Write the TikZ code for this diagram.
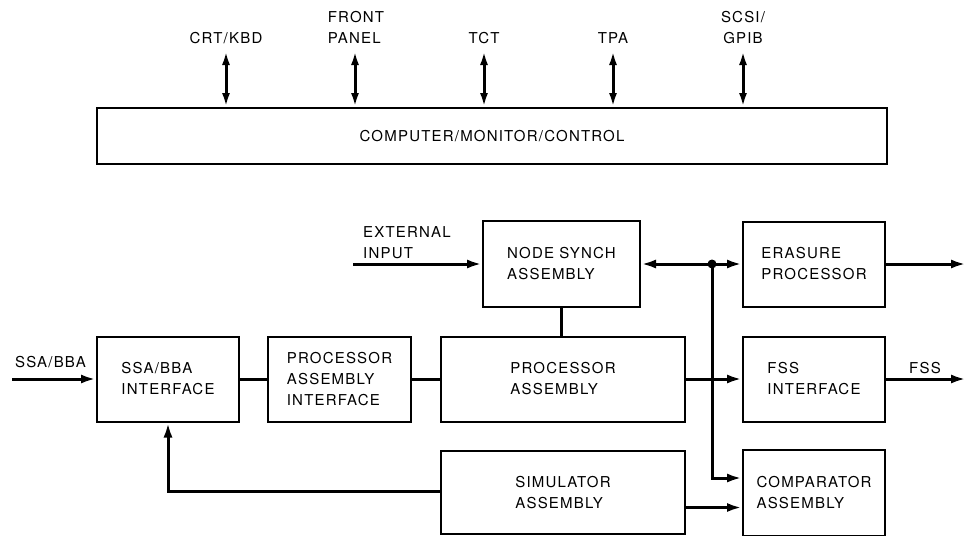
\documentclass[tikz,border=0pt]{standalone}
\usepackage{fontspec}
\setmainfont{TeX Gyre Heros}[LetterSpace=8]
\usetikzlibrary{arrows.meta}
\begin{document}
\begin{tikzpicture}[x=1pt,y=-1pt,
  txt/.style={font=\fontsize{15}{21}\selectfont},
  box/.style={draw, line width=2pt, align=left, inner sep=0pt, txt},
  lbl/.style={align=left, inner sep=0pt, txt},
  conn/.style={line width=3pt},
  arr/.style={conn, -{Latex[length=15pt,width=9pt]}},
  rarr/.style={conn, {Latex[length=15pt,width=9pt]}-},
  barr/.style={conn, {Latex[length=14pt,width=8pt]}-{Latex[length=14pt,width=8pt]}},
]
\useasboundingbox (0,0) rectangle (968,535);
\clip (0,0) rectangle (968,535);

% top block
\node[box, minimum width=790pt, minimum height=56pt] (cmc) at (492,136) {COMPUTER/MONITOR/CONTROL};
\node[lbl] (l1) at (226,38) {CRT/KBD};
\node[lbl] (l2) at (356,27.5) {FRONT\\PANEL};
\node[lbl] (l3) at (484,38) {TCT};
\node[lbl] (l4) at (613,38) {TPA};
\node[lbl, align=center] (l5) at (743,27.5) {SCSI/\\GPIB};
\coordinate (t1) at (226,51);
\coordinate (t2) at (355,51);
\coordinate (t3) at (484,51);
\coordinate (t4) at (613,51);
\coordinate (t5) at (743,51);
\foreach \t in {t1,t2,t3,t4,t5}{\draw[barr] (\t) -- (\t |- cmc.north);}

% lower blocks
\node[box, minimum width=157pt, minimum height=86pt] (ns) at (561.5,264) {NODE SYNCH\\ASSEMBLY};
\node[box, minimum width=142pt, minimum height=85pt] (ep) at (814,264) {ERASURE\\PROCESSOR};
\node[box, minimum width=142pt, minimum height=85pt] (ssa) at (168,379) {SSA/BBA\\INTERFACE};
\node[box, minimum width=143pt, minimum height=85pt] (pai) at (339.5,379) {PROCESSOR\\ASSEMBLY\\INTERFACE};
\node[box, minimum width=244pt, minimum height=85pt] (pa) at (563,379) {PROCESSOR\\ASSEMBLY};
\node[box, minimum width=142pt, minimum height=85pt] (fss) at (814,379) {FSS\\INTERFACE};
\node[box, minimum width=244pt, minimum height=83pt] (sim) at (563,492.5) {SIMULATOR\\ASSEMBLY};
\node[box, minimum width=142pt, minimum height=86pt] (comp) at (814,493) {COMPARATOR\\ASSEMBLY};

% labels
\node[lbl, anchor=west] (extl) at (363,242.5) {EXTERNAL\\INPUT};
\node[lbl] (ssal) at (50.5,362) {SSA/BBA};
\node[lbl] (fssl) at (925,368) {FSS};

% connectors
\coordinate (ext) at (353,264);
\draw[arr] (ext) -- (ns.west);
\coordinate (dot) at (712,264);
\draw[rarr] (ns.east) -- (dot);
\draw[arr] (dot) -- (dot -| ep.west);
\fill (dot) circle (4.5pt);
\coordinate (epo) at (966,264);
\draw[arr] (ep.east) -- (epo);
\draw[arr] (dot) |- ([yshift=15pt]comp.west);
\draw[conn] (ns.south) -- (ns.south |- pa.north);
\coordinate (ssain) at (12,379);
\draw[arr] (ssain) -- (ssa.west);
\draw[conn] (ssa.east) -- (pai.west);
\draw[conn] (pai.east) -- (pa.west);
\draw[arr] (pa.east) -- (fss.west);
\coordinate (fsso) at (966,379);
\draw[arr] (fss.east) -- (fsso);
\draw[arr] ([yshift=1.5pt]sim.west) -| (ssa.south);
\draw[arr] ([yshift=-15pt]sim.east) -- ([yshift=-15pt]sim.east -| comp.west);
\end{tikzpicture}
\end{document}
